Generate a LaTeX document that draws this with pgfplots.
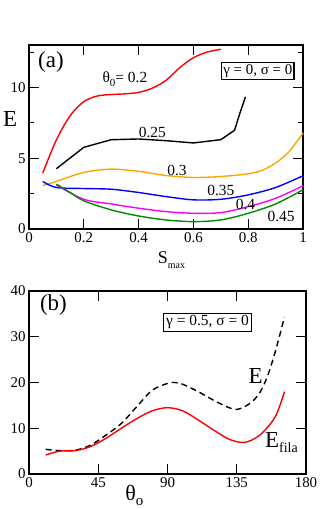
\documentclass[border=0pt]{standalone}
\usepackage{fontspec}
\setmainfont{Liberation Serif}
\usepackage{pgfplots}
\pgfplotsset{compat=1.18}
\definecolor{cred}{RGB}{255,0,0}
\definecolor{corange}{RGB}{255,165,0}
\definecolor{cblue}{RGB}{0,0,255}
\definecolor{cmag}{RGB}{255,0,255}
\definecolor{cgreen}{RGB}{0,140,0}
\newcommand{\fs}[1]{\fontsize{#1}{#1}\selectfont}
\pgfplotsset{
  panel/.style={
    scale only axis, clip=false,
    axis line style={line width=1.6bp},
    every tick/.style={line width=1.1bp, black},
    major tick length=10bp, minor tick length=5bp,
    tick align=inside,
    tick label style={font=\fs{15}},
    /pgf/number format/assume math mode=true,
  },
  curve/.style={line width=1.4bp, no markers, smooth},
}
\begin{document}
\begin{tikzpicture}[x=1bp,y=1bp]
\path[use as bounding box] (0,0) rectangle (327,-509);
% panel (a)
\begin{axis}[panel,
  at={(29bp,-229bp)}, anchor=south west,
  width=274bp, height=184bp,
  xmin=0, xmax=1, ymin=0, ymax=13,
  xtick={0,0.2,0.4,0.6,0.8,1},
  ytick={0,5,10}, minor ytick={2.5,7.5,12.5},
]
\addplot[curve, cred] coordinates {(0.05,3.95) (0.1,6.3) (0.15,8.0) (0.2,9.0) (0.25,9.4) (0.3,9.5) (0.35,9.55) (0.4,9.65) (0.45,9.95) (0.5,10.5) (0.55,11.4) (0.6,12.1) (0.65,12.5) (0.7,12.7)};
\addplot[line width=1.4bp, no markers, black] coordinates {(0.1,4.26) (0.2,5.77) (0.3,6.31) (0.4,6.36) (0.5,6.24) (0.6,6.08) (0.7,6.31) (0.75,6.97) (0.77,8.2) (0.79,9.34)};
\addplot[curve, corange] coordinates {(0.05,3.07) (0.1,3.36) (0.2,4.0) (0.3,4.23) (0.4,4.07) (0.5,3.78) (0.6,3.64) (0.7,3.71) (0.8,3.9) (0.85,4.14) (0.9,4.66) (0.95,5.48) (1.0,6.78)};
\addplot[curve, cblue] coordinates {(0.05,3.36) (0.1,2.93) (0.2,2.86) (0.3,2.81) (0.4,2.58) (0.5,2.29) (0.6,2.06) (0.7,2.1) (0.8,2.41) (0.9,2.93) (1.0,3.76)};
\addplot[curve, cmag] coordinates {(0.1,3.1) (0.2,2.1) (0.3,1.77) (0.4,1.47) (0.5,1.23) (0.6,1.11) (0.7,1.16) (0.8,1.58) (0.9,2.17) (1.0,3.05)};
\addplot[curve, cgreen] coordinates {(0.1,3.17) (0.15,2.58) (0.2,1.99) (0.3,1.35) (0.4,0.92) (0.5,0.64) (0.6,0.52) (0.7,0.64) (0.8,1.11) (0.9,1.77) (1.0,2.77)};
\node[font=\fs{15.5}] at (axis cs:0.35,10.6) {θ\raisebox{-3.5bp}{\fs{11}0}= 0.2};
\node[font=\fs{15.5}] at (axis cs:0.45,6.8) {0.25};
\node[font=\fs{15.5}] at (axis cs:0.54,4.1) {0.3};
\node[font=\fs{15.5}] at (axis cs:0.70,2.7) {0.35};
\node[font=\fs{15.5}] at (axis cs:0.79,1.7) {0.4};
\node[font=\fs{15.5}] at (axis cs:0.92,0.85) {0.45};
\node[font=\fs{23}] at (axis cs:0.08,11.8) {(a)};
\node[draw, line width=1.1bp, fill=white, inner sep=1.8bp, font=\fs{15}] at (axis cs:0.835,11.17) {γ = 0, σ = 0};
\node[font=\fs{23}] at (rel axis cs:-0.069,0.6) {E};
\node[font=\fs{18}, anchor=base] at (rel axis cs:0.52,-0.19) {S\raisebox{-5bp}{\fs{10}max}};
\end{axis}
% panel (b)
\begin{axis}[panel,
  at={(29bp,-474bp)}, anchor=south west,
  width=277bp, height=183bp,
  xmin=0, xmax=180, ymin=0, ymax=40,
  xtick={0,45,90,135,180},
  ytick={0,10,20,30,40},
]
\addplot[curve, black, dash pattern=on 6bp off 4bp] coordinates {(10.8,5.4) (20,5.1) (30,5.2) (40,6.3) (50,8.5) (60,11.05) (70,14.7) (80,18.3) (90,19.8) (95,20.0) (100,19.6) (110,18.0) (120,16.1) (130,14.5) (135,14.1) (140,14.7) (145,15.8) (150,17.8) (155,21.4) (160,26.7) (166,34.3)};
\addplot[curve, cred] coordinates {(10.8,4.15) (20,5.0) (30,5.1) (40,6.0) (50,7.8) (60,10.0) (70,12.1) (80,13.8) (90,14.5) (100,13.8) (110,11.8) (120,9.6) (130,7.6) (140,6.9) (150,8.5) (160,12.5) (166,18.0)};
\node[font=\fs{23}] at (axis cs:15.9,36.9) {(b)};
\node[draw, line width=1.1bp, fill=white, inner sep=2.2bp, font=\fs{15.5}] at (axis cs:116,33.2) {γ = 0.5, σ = 0};
\node[font=\fs{23}] at (axis cs:147.2,21.5) {E};
\node[font=\fs{23}, anchor=west, inner sep=0pt] at (axis cs:153.3,6.9) {E\raisebox{-5bp}{\fs{14}fila}};
\node[font=\fs{22}, anchor=base, inner sep=0pt] at (rel axis cs:0.38,-0.145) {θ\raisebox{-5bp}{\fs{15}o}};
\end{axis}
\end{tikzpicture}
\end{document}
